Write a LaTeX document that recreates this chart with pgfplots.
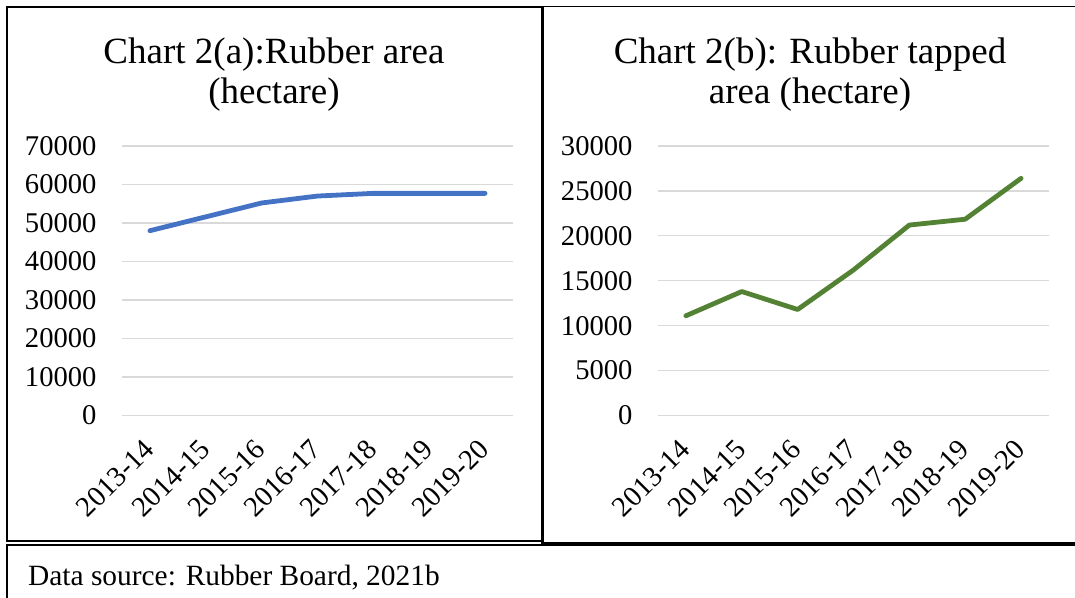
\documentclass[border=0pt]{standalone}
\usepackage{pgfplots}
\pgfplotsset{compat=1.18}
\usepackage{fontspec}
\setmainfont{Liberation Serif}

\definecolor{areablue}{HTML}{4472C4}
\definecolor{tapgreen}{HTML}{548235}
\definecolor{gridgray}{HTML}{D9D9D9}

\pgfplotsset{
  rubber/.style={
    scale only axis, width=391pt, height=269.5pt,
    xmin=-0.5, xmax=6.5, ymin=0,
    xtick={0,...,6},
    xticklabels={2013-14,2014-15,2015-16,2016-17,2017-18,2018-19,2019-20},
    axis line style={draw=none}, major tick length=0pt,
    ymajorgrids, grid style={gridgray, line width=1.3pt},
    scaled y ticks=false,
    /pgf/number format/assume math mode=true,
    /pgf/number format/1000 sep={},
    tick label style={font=\fontsize{28.6}{30}\selectfont},
    yticklabel style={xshift=-22pt},
    xticklabel style={xshift=-8pt, yshift=-17pt, rotate=45, anchor=north east},
  },
}

\begin{document}
\begin{tikzpicture}
\useasboundingbox (0pt,0pt) rectangle (1075pt,597pt);

% panel borders
\draw[line width=1.3pt] (7pt,56pt) rectangle (542pt,590pt);
\draw[line width=1pt] (542pt,590pt) -- (1080pt,590pt);
\draw[line width=2.2pt] (542.5pt,591pt) -- (542.5pt,54pt) -- (1080pt,54pt);
\draw[line width=1.3pt] (7pt,-5pt) -- (7pt,52pt) -- (1080pt,52pt);

% titles
\node[anchor=base, font=\fontsize{37}{41}\selectfont] at (274pt,533.5pt) {Chart 2(a):Rubber area};
\node[anchor=base, font=\fontsize{37}{41}\selectfont] at (274pt,493pt) {(hectare)};
\node[anchor=base, font=\fontsize{37}{41}\selectfont] at (810pt,533.5pt) {Chart 2(b): Rubber tapped};
\node[anchor=base, font=\fontsize{37}{41}\selectfont] at (810pt,493pt) {area (hectare)};

% caption
\node[anchor=base west, inner sep=0pt, font=\fontsize{29.4}{32}\selectfont] at (28pt,12pt) {Data source: Rubber Board, 2021b};

\begin{axis}[rubber, at={(122pt,181.5pt)}, anchor=south west,
  ymax=70000, ytick={0,10000,...,70000}]
\addplot[areablue, line width=4.8pt, line cap=round, line join=round] coordinates {
  (0,48000) (1,51600) (2,55200) (3,57000) (4,57700) (5,57700) (6,57700)};
\end{axis}

\begin{axis}[rubber, at={(658pt,181.5pt)}, anchor=south west,
  ymax=30000, ytick={0,5000,...,30000}]
\addplot[tapgreen, line width=4.8pt, line cap=round, line join=round] coordinates {
  (0,11100) (1,13800) (2,11800) (3,16200) (4,21200) (5,21850) (6,26400)};
\end{axis}
\end{tikzpicture}
\end{document}
